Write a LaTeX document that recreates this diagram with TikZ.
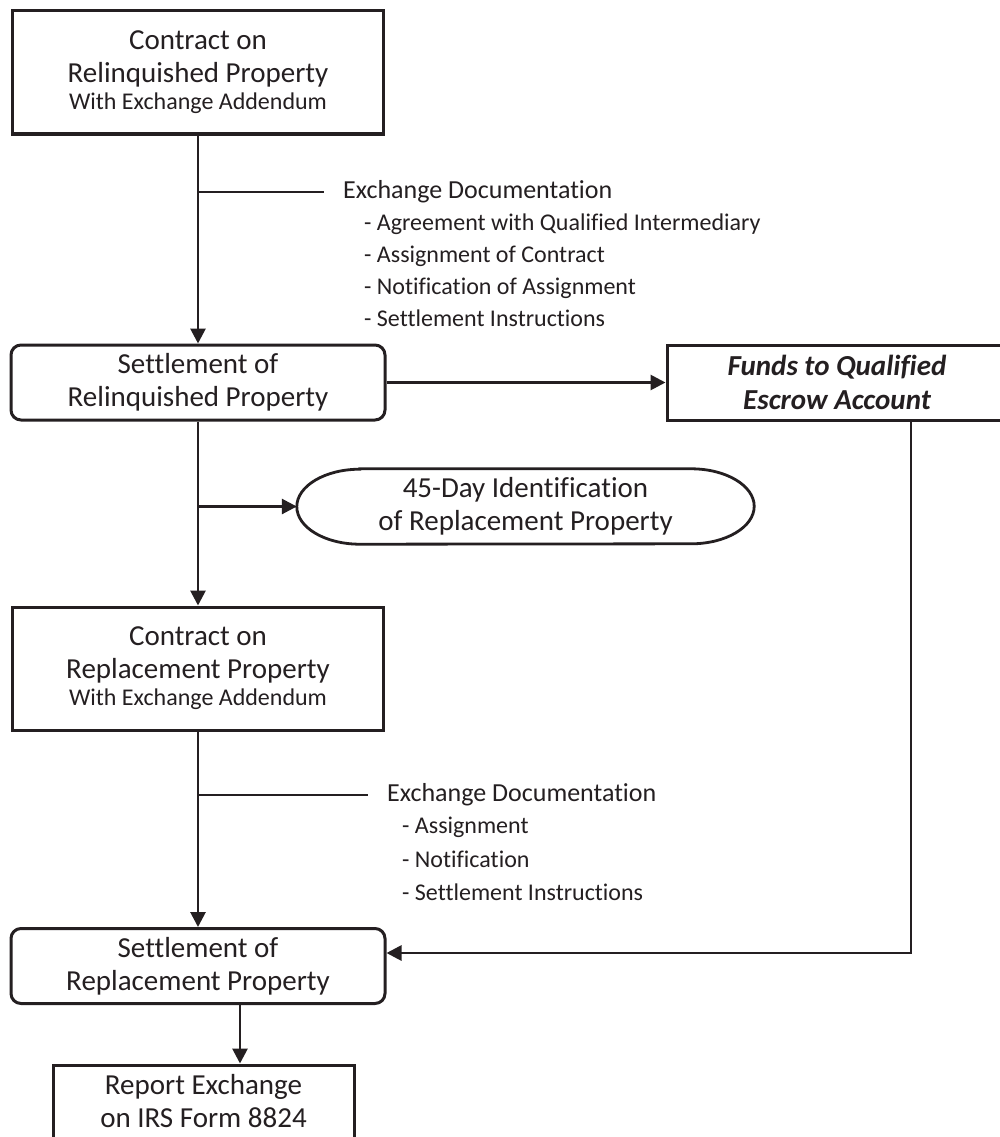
\documentclass[tikz,border=0pt]{standalone}
\usepackage{fontspec}
\setmainfont{Carlito}[Ligatures=NoCommon]
\usepackage{tikz}
\usetikzlibrary{calc,positioning,arrows.meta,shapes}
\definecolor{ink}{rgb}{0.14,0.12,0.13}
\newcommand{\addendum}[1]{{\fontsize{24}{27}\selectfont #1}}
\tikzset{
    stepbox/.style={
    rectangle,draw=ink,line width=3pt,minimum width=371pt,minimum height=123pt,
    align=center,inner sep=0pt,text=ink,font=\fontsize{29}{33}\selectfont
    },
    settlebox/.style={
    stepbox,rounded corners=10pt,minimum width=374pt,minimum height=75pt
    },
    fundbox/.style={
    stepbox,minimum width=340pt,minimum height=75pt,font=\fontsize{29}{34}\selectfont\bfseries\itshape
    },
    reportbox/.style={
    stepbox,minimum width=301pt,minimum height=90pt,text depth=18pt
    },
  idnode/.style={rectangle, minimum width=457pt, minimum height=75pt, align=center, inner sep=0pt, text=ink, font=\fontsize{29}{33}\selectfont},
  idline/.style={draw=ink, line width=2.8pt},
  docline/.style={anchor=west, inner xsep=19pt, inner ysep=0pt, text=ink, font=\fontsize{26}{30}\selectfont},
  doclist/.style={anchor=north west, inner sep=0pt, align=left, text=ink},
  line/.style={draw=ink, line width=2.8pt, ->},
  >={Triangle[length=15pt,width=15pt]}
}
\begin{document}
\begin{tikzpicture}[x=1pt,y=-1pt]
    \clip (0,0) rectangle (1000,1137);
    \fill[white] (0,0) rectangle (1000,1137);

    \node[stepbox] (conr) at (198,72.5) {Contract on\\Relinquished Property\\[-6pt]\addendum{With Exchange Addendum}};
    \node[settlebox] (setl) at (198,382.5) {Settlement of\\Relinquished Property};
    \node[fundbox] (funds) at (837,382.5) {Funds to Qualified\\Escrow Account};
    \node[idnode] (ident) at (525.5,506.5) {45-Day Identification\\of Replacement Property};
    \node[stepbox] (conp) at (198,668.5) {Contract on\\Replacement Property\\[-6pt]\addendum{With Exchange Addendum}};
    \node[settlebox] (setp) at (198,966) {Settlement of\\Replacement Property};
    \node[reportbox] (rep) at (203.5,1110) {Report Exchange\\on IRS Form 8824};

    \node[docline] (doca) at (324,192) {Exchange Documentation};
    \node[doclist,font=\fontsize{24}{32}\selectfont] (lista) at (364,214) {- Agreement with Qualified Intermediary\\- Assignment of Contract\\- Notification of Assignment\\- Settlement Instructions};
    \node[docline] (docb) at (368,795) {Exchange Documentation};
    \node[doclist,font=\fontsize{24}{33.5}\selectfont] (listb) at (402,817) {- Assignment\\- Notification\\- Settlement Instructions};

    \draw[idline] ([xshift=63pt]ident.north west) -- ([xshift=-63pt]ident.north east)
      arc[start angle=90,end angle=-90,x radius=63pt,y radius=37.5pt]
      -- ([xshift=63pt]ident.south west)
      arc[start angle=270,end angle=90,x radius=63pt,y radius=37.5pt] -- cycle;

    \begin{scope} [every path/.style=line]
      \path (conr) -- (setl);
      \path[-] (conr.south |- doca.west) -- (doca.west);
      \path (setl) -- (funds);
      \path (setl) -- (conp);
      \path (setl.south |- ident.west) -- (ident.west);
      \path (conp) -- (setp);
      \path[-] (conp.south |- docb.west) -- (docb.west);
      \path ([xshift=74pt]funds.south) |- ([yshift=13pt]setp.east);
      \path ([xshift=42pt]setp.south) -- ([xshift=42pt]setp.south |- rep.north);
    \end{scope}
\end{tikzpicture}
\end{document}
